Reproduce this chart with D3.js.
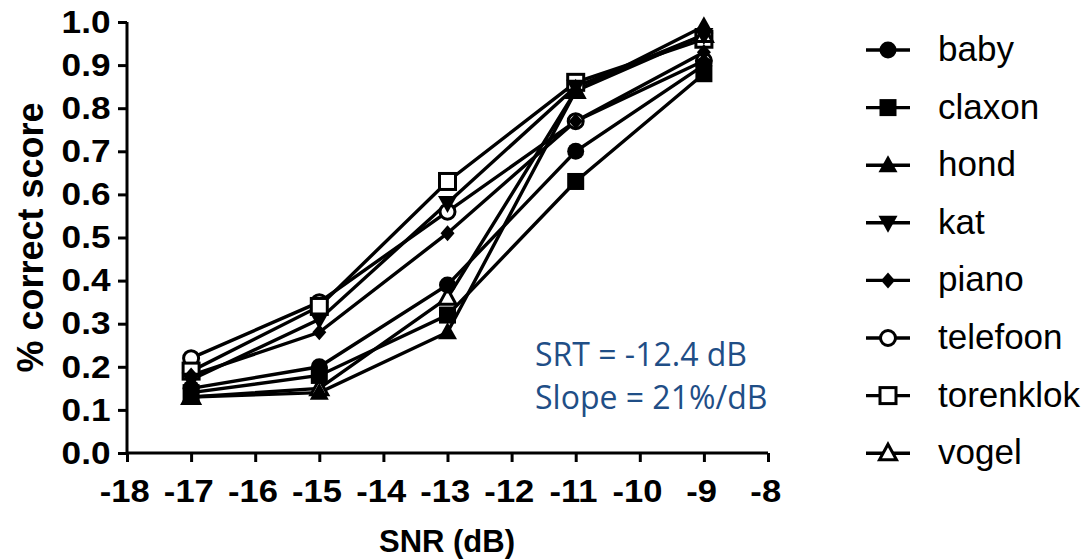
<!DOCTYPE html>
<html>
<head>
<meta charset="utf-8">
<script src="https://cdn.jsdelivr.net/npm/d3@7"></script>
<style>
  body { margin: 0; background: #fff; }
  svg { display: block; }
</style>
</head>
<body>
<svg id="chart" width="1087" height="560"></svg>
<script>
// data
const snr = [-17, -15, -13, -11, -9];
const baby      = [0.15, 0.20, 0.39, 0.70, 0.90];
const claxon    = [0.14, 0.18, 0.32, 0.63, 0.88];
const hond      = [0.13, 0.14, 0.28, 0.84, 0.99];
const kat       = [0.17, 0.31, 0.58, 0.85, 0.97];
const piano     = [0.18, 0.28, 0.51, 0.77, 0.93];
const telefoon  = [0.22, 0.35, 0.56, 0.77, 0.91];
const torenklok = [0.19, 0.34, 0.63, 0.86, 0.96];
const vogel     = [0.13, 0.15, 0.36, 0.84, 0.97];

const seriesNames = ["baby", "claxon", "hond", "kat", "piano", "telefoon", "torenklok", "vogel"];
const seriesValues = [baby, claxon, hond, kat, piano, telefoon, torenklok, vogel];
const markerTypes = ["circle", "square", "triUp", "triDown", "diamond", "circleOpen", "squareOpen", "triUpOpen"];

const xTicks = [-18, -17, -16, -15, -14, -13, -12, -11, -10, -9, -8];
const yTicks = [0, 0.1, 0.2, 0.3, 0.4, 0.5, 0.6, 0.7, 0.8, 0.9, 1.0];
const annotations = ["SRT = -12.4 dB", "Slope = 21%/dB"];

const svg = d3.select("#chart");
const x = d3.scaleLinear().domain([-18, -8]).range([127, 768]);
const y = d3.scaleLinear().domain([0, 1]).range([453, 22]);

const font = "'Liberation Sans', Arial, sans-serif";

// axes
const yAxis = svg.append("g")
  .attr("transform", `translate(${x(-18)},0)`)
  .call(d3.axisLeft(y).tickValues(yTicks).tickFormat(d3.format(".1f")).tickSize(9).tickPadding(6));
const xAxis = svg.append("g")
  .attr("transform", `translate(0,${y(0)})`)
  .call(d3.axisBottom(x).tickValues(xTicks).tickFormat(d => d).tickSize(9).tickPadding(17));

[yAxis, xAxis].forEach(g => {
  g.select(".domain").attr("stroke", "#000").attr("stroke-width", 3);
  g.selectAll(".tick line").attr("stroke", "#000").attr("stroke-width", 3);
  g.selectAll(".tick text")
    .attr("fill", "#000")
    .style("font-family", font)
    .style("font-weight", "bold")
    .style("font-size", "32px");
});
yAxis.select(".domain").attr("d", `M0,${y(1)}V${y(0)}`);
xAxis.select(".domain").attr("d", `M${x(-18)},0H${x(-8)}`);
// labels in the reference are a touch wider than plain Arial bold
yAxis.selectAll(".tick text").attr("transform", "scale(1.1,1)");
xAxis.selectAll(".tick text").attr("transform", "scale(1.08,1)").attr("dx", "-0.08em");

// axis titles
svg.append("text")
  .attr("x", 447).attr("y", 552)
  .attr("text-anchor", "middle")
  .style("font-family", font).style("font-weight", "bold").style("font-size", "31px")
  .text("SNR (dB)");
svg.append("text")
  .attr("transform", `translate(43,${y(0.5)}) rotate(-90)`)
  .attr("text-anchor", "middle")
  .style("font-family", font).style("font-weight", "bold").style("font-size", "36px")
  .text("% correct score");

// marker drawing
function drawMarker(g, type) {
  const sw = 3;
  if (type === "circle") {
    g.append("circle").attr("r", 8.5).attr("fill", "#000");
  } else if (type === "circleOpen") {
    g.append("circle").attr("r", 7.5).attr("fill", "#fff").attr("stroke", "#000").attr("stroke-width", sw);
  } else if (type === "square") {
    g.append("rect").attr("x", -8.5).attr("y", -8.5).attr("width", 17).attr("height", 17).attr("fill", "#000");
  } else if (type === "squareOpen") {
    g.append("rect").attr("x", -8).attr("y", -8).attr("width", 16).attr("height", 16)
      .attr("fill", "#fff").attr("stroke", "#000").attr("stroke-width", sw);
  } else if (type === "triUp") {
    g.append("path").attr("d", "M0,-10L9.5,7L-9.5,7Z").attr("fill", "#000");
  } else if (type === "triUpOpen") {
    g.append("path").attr("d", "M0,-9L8.5,6.5L-8.5,6.5Z")
      .attr("fill", "#fff").attr("stroke", "#000").attr("stroke-width", sw);
  } else if (type === "triDown") {
    g.append("path").attr("d", "M0,10L9.5,-7L-9.5,-7Z").attr("fill", "#000");
  } else if (type === "diamond") {
    g.append("path").attr("d", "M0,-8L7,0L0,8L-7,0Z").attr("fill", "#000");
  }
}

const line = d3.line().x(d => x(d[0])).y(d => y(d[1]));
const plot = svg.append("g");

seriesValues.forEach(vals => {
  const pts = snr.map((s, j) => [s, vals[j]]);
  plot.append("path")
    .attr("d", line(pts))
    .attr("fill", "none")
    .attr("stroke", "#000")
    .attr("stroke-width", 3.4);
});
// open markers underneath, filled markers on top
const order = d3.range(seriesValues.length)
  .sort((a, b) => (markerTypes[b].includes("Open") ? 1 : 0) - (markerTypes[a].includes("Open") ? 1 : 0));
order.forEach(i => {
  snr.forEach((s, j) => {
    const g = plot.append("g").attr("transform", `translate(${x(s)},${y(seriesValues[i][j])})`);
    drawMarker(g, markerTypes[i]);
  });
});

// legend
const legend = svg.append("g");
seriesNames.forEach((name, i) => {
  const cy = 50 + i * 57.6;
  const row = legend.append("g").attr("transform", `translate(888,${cy})`);
  row.append("line").attr("x1", -22).attr("x2", 22).attr("stroke", "#000").attr("stroke-width", 3.4);
  drawMarker(row, markerTypes[i]);
  row.append("text")
    .attr("x", 50).attr("y", 11)
    .style("font-family", font).style("font-size", "35px")
    .attr("fill", "#000")
    .text(name);
});

// annotation text
annotations.forEach((t, i) => {
  svg.append("text")
    .attr("x", 535).attr("y", 366 + i * 43)
    .style("font-family", "'Open Sans', sans-serif").style("font-size", "32px")
    .attr("fill", "#1f4e86")
    .text(t);
});
</script>
</body>
</html>
